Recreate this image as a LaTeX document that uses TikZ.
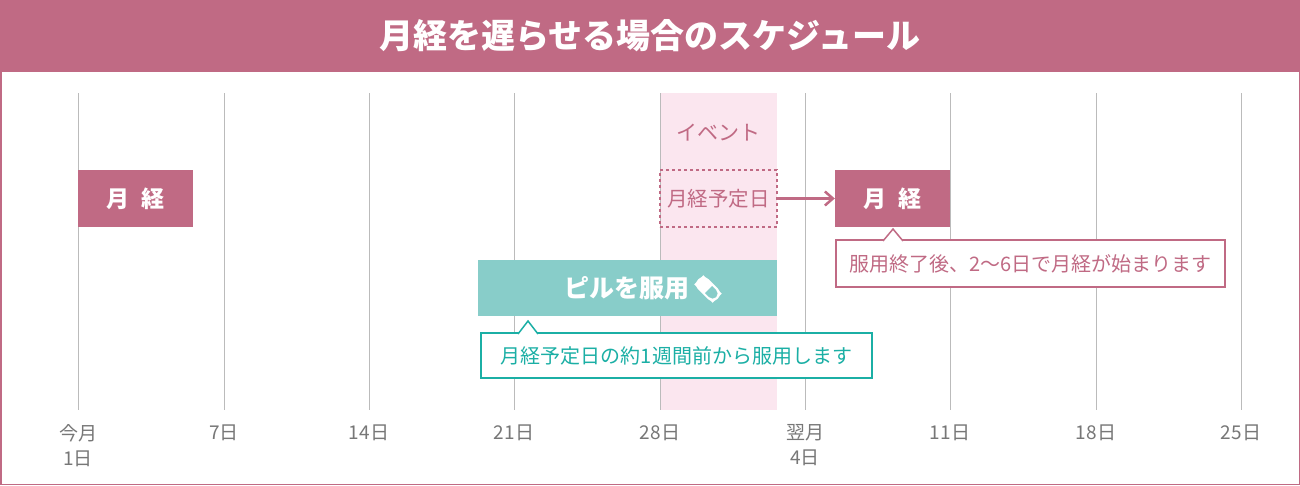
\documentclass[tikz,border=0pt]{standalone}
\usepackage{fontspec}
\setmainfont{Noto Sans CJK JP}
\usetikzlibrary{positioning,arrows.meta}
\definecolor{rose}{HTML}{C06A84}
\definecolor{blush}{HTML}{FBE6EF}
\definecolor{mint}{HTML}{88CDC9}
\definecolor{teal2}{HTML}{1BAFA5}
\definecolor{grid}{HTML}{BBBBBB}
\definecolor{daytxt}{HTML}{777777}
\tikzset{
  period/.style={fill=rose, text=white, minimum width=115pt, minimum height=57pt, font=\fontsize{23}{25}\selectfont\bfseries, inner sep=0pt},
  daylabel/.style={text=daytxt, font=\fontsize{19}{25}\selectfont, align=center, anchor=north},
  note/.style={draw, fill=white, line width=1.5pt, font=\fontsize{20}{22}\selectfont, inner sep=0pt}
}
\begin{document}
\begin{tikzpicture}[x=1pt, y=-1pt]
\useasboundingbox (0,0) rectangle (1300,485);
\draw [rose, line width=1.5pt, fill=white] (0.75,0.75) rectangle (1299.25,484.25);
\fill [rose] (0,0) rectangle (1300,72);
\node (title) [text=white, font=\fontsize{34}{36}\selectfont\bfseries] at (650,36) {月経を遅らせる場合のスケジュール};

\fill [blush] (660,93) rectangle (777,410);
\foreach \x in {78,224,369,514,660,805,950,1096,1241}
  \draw [grid, line width=1pt] (\x,93) -- (\x,410);

\node (event) [text=rose, font=\fontsize{21}{23}\selectfont] at (718,133) {イベント};

\node (first) [period] at (135.5,198.5) {月\hspace{0.5em}経};
\node (due) [draw=rose, dashed, line width=1.5pt, text=rose, minimum width=117pt, minimum height=57pt, inner sep=0pt, font=\fontsize{20.5}{22}\selectfont] at (718.5,198.5) {月経予定日};
\node (next) [period] at (892.5,198.5) {月\hspace{0.5em}経};
\draw [rose, line width=2.5pt, -{Straight Barb[length=8pt,width=14pt]}] (due) -- (next);

% callout after the pill
\node (after) [note, draw=rose, text=rose, minimum width=389pt, minimum height=47pt] at (1030.5,263.5) {服用終了後、2〜6日で月経が始まります};
\draw [rose, line width=1.5pt, fill=white] (883,241) -- (893,229) -- (903,241);

\node (pill) [fill=mint, minimum width=299pt, minimum height=56pt, inner sep=0pt] at (627.5,288) {};
\node (pilltext) [text=white, font=\fontsize{25}{27}\selectfont\bfseries] at (627,288) {ピルを服用};
\begin{scope}[shift={(708,289)}, rotate=-45]
  \fill [white] (-13,-6.5) rectangle (13,6.5);
  \draw [white, line width=1.5pt, rounded corners=6.5pt] (-13,-6.5) rectangle (13,6.5);
  \fill [mint] (0.8,-5) -- (0.8,5) -- (6.5,5) arc (90:-90:5) -- cycle;
\end{scope}

\node (before) [note, draw=teal2, text=teal2, minimum width=391pt, minimum height=45pt] at (676.5,355.5) {月経予定日の約1週間前から服用します};
\draw [teal2, line width=1.5pt, fill=white] (518,334) -- (528,321) -- (538,334);

\node (d1) [daylabel] at (78,421) {今月\\1日};
\node (d7) [daylabel] at (224,421) {7日};
\node (d14) [daylabel] at (369,421) {14日};
\node (d21) [daylabel] at (514,421) {21日};
\node (d28) [daylabel] at (660,421) {28日};
\node (d4) [daylabel] at (805,421) {翌月\\4日};
\node (d11) [daylabel] at (950,421) {11日};
\node (d18) [daylabel] at (1096,421) {18日};
\node (d25) [daylabel] at (1241,421) {25日};
\end{tikzpicture}
\end{document}
